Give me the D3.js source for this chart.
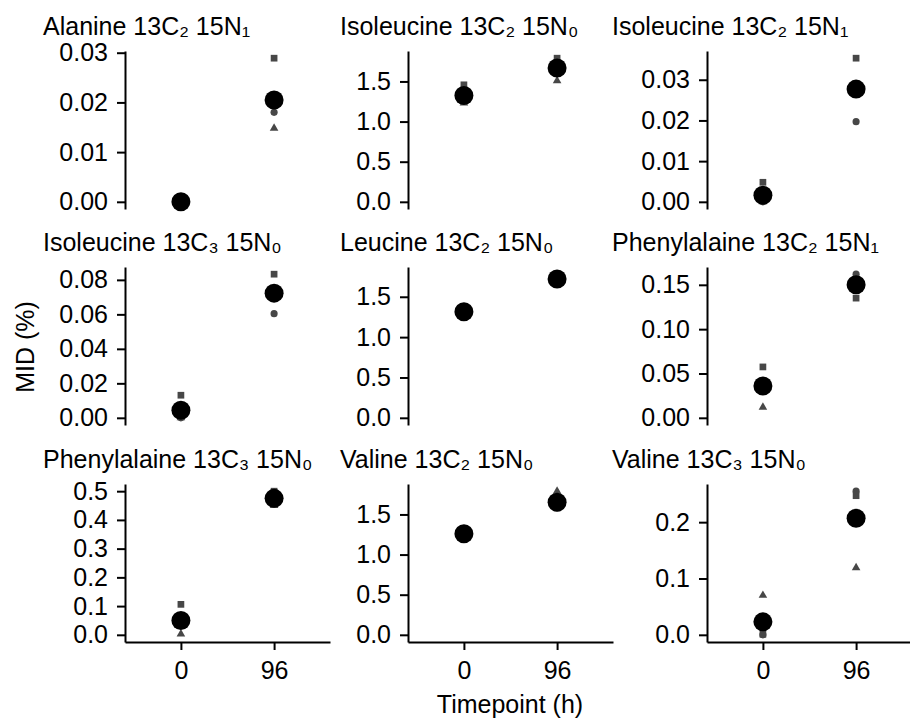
<!DOCTYPE html>
<html>
<head>
<meta charset="utf-8">
<script src="https://cdn.jsdelivr.net/npm/d3@7"></script>
<style>
  body { margin: 0; background: #fff; }
  svg text { font-family: "Liberation Sans", Arial, sans-serif; fill: #000; }
</style>
</head>
<body>
<div id="mid_plot"></div>
<script>
var titles = [
    "Alanine 13C\u2082 15N\u2081",
    "Isoleucine 13C\u2082 15N\u2080",
    "Isoleucine 13C\u2082 15N\u2081",
    "Isoleucine 13C\u2083 15N\u2080",
    "Leucine 13C\u2082 15N\u2080",
    "Phenylalaine 13C\u2082 15N\u2081",
    "Phenylalaine 13C\u2083 15N\u2080",
    "Valine 13C\u2082 15N\u2080",
    "Valine 13C\u2083 15N\u2080"
];
var timepoints = ["0", "96"];

/* replicate values per panel: [t0, t96] */
var repCircle = [
    [0.0000, 0.0180], [1.287, 1.70], [0.0000, 0.0197],
    [0.0000, 0.0604], [1.31, 1.69], [0.0383, 0.162],
    [0.041, 0.475], [1.26, 1.59], [0.000, 0.255]
];
var repSquare = [
    [0.0000, 0.0289], [1.458, 1.79], [0.0048, 0.0353],
    [0.0131, 0.0833], [1.30, 1.78], [0.0574, 0.135],
    [0.106, 0.500], [1.25, 1.58], [0.001, 0.247]
];
var repTriangle = [
    [0.0000, 0.0148], [1.23, 1.51], [0.0000, 0.0281],
    [0.0000, 0.0732], [1.33, 1.69], [0.012, 0.153],
    [0.003, 0.450], [1.27, 1.79], [0.070, 0.119]
];
var means = [
    [0.0000, 0.0205], [1.325, 1.667], [0.0016, 0.0277],
    [0.0044, 0.0723], [1.315, 1.72], [0.0359, 0.150],
    [0.050, 0.475], [1.26, 1.653], [0.023, 0.207]
];
var yTicks = [
    ["0.00", "0.01", "0.02", "0.03"], ["0.0", "0.5", "1.0", "1.5"], ["0.00", "0.01", "0.02", "0.03"],
    ["0.00", "0.02", "0.04", "0.06", "0.08"], ["0.0", "0.5", "1.0", "1.5"], ["0.00", "0.05", "0.10", "0.15"],
    ["0.0", "0.1", "0.2", "0.3", "0.4", "0.5"], ["0.0", "0.5", "1.0", "1.5"], ["0.0", "0.1", "0.2"]
];

var svg = d3.select("#mid_plot")
    .append("svg")
    .attr("width", 910)
    .attr("height", 721);

var panelW = 205;
var panelH = 158;
var colLeft = [125, 408, 707];
var rowTop = [51, 267, 484];
var titleX = [43, 340, 612];
var fontSize = 25;
var repColor = "#474747";

var shapes = [
    {vals: repCircle, type: d3.symbolCircle, size: 40},
    {vals: repSquare, type: d3.symbolSquare, size: 45},
    {vals: repTriangle, type: d3.symbolTriangle, size: 32}
];

titles.forEach(function(title, i) {
    var col = i % 3, row = Math.floor(i / 3);

    /*title sits at the left edge of each sub plot*/
    svg.append("text")
        .attr("x", titleX[col])
        .attr("y", rowTop[row] - 16)
        .attr("font-size", fontSize)
        .text(title);

    var g = svg.append("g")
        .attr("transform", "translate(" + colLeft[col] + "," + rowTop[row] + ")");

    var xScale = d3.scalePoint().domain(timepoints).range([0, panelW]).padding(0.6);

    var allVals = [0].concat(repCircle[i], repSquare[i], repTriangle[i], means[i]);
    var ext = d3.extent(allVals);
    var pad = (ext[1] - ext[0]) * 0.05;
    var yScale = d3.scaleLinear().domain([ext[0] - pad, ext[1] + pad]).range([panelH, 0]);

    /*Y axis*/
    var yAxis = g.append("g")
        .call(d3.axisLeft(yScale)
            .tickValues(yTicks[i].map(Number))
            .tickFormat(function(d, k) { return yTicks[i][k]; })
            .tickSize(8).tickSizeOuter(0).tickPadding(9));
    yAxis.selectAll("text").attr("font-size", fontSize).attr("font-family", null);
    yAxis.selectAll("path, line").attr("stroke", "#000").attr("stroke-width", 2);

    /*X axis only on bottom row*/
    if (row == 2) {
        var xAxis = g.append("g")
            .attr("transform", "translate(0," + panelH + ")")
            .call(d3.axisBottom(xScale).tickSize(8).tickSizeOuter(0).tickPadding(11));
        xAxis.selectAll("text").attr("font-size", fontSize).attr("font-family", null);
        xAxis.selectAll("path, line").attr("stroke", "#000").attr("stroke-width", 2);
    }

    /*replicate points*/
    shapes.forEach(function(s) {
        g.selectAll(null)
            .data(s.vals[i])
            .enter()
            .append("path")
            .attr("d", d3.symbol().type(s.type).size(s.size))
            .attr("transform", function(d, k) {
                return "translate(" + xScale(timepoints[k]) + "," + yScale(d) + ")";
            })
            .attr("fill", repColor);
    });

    /*mean points*/
    g.selectAll(".mean")
        .data(means[i])
        .enter()
        .append("circle")
        .attr("class", "mean")
        .attr("cx", function(d, k) { return xScale(timepoints[k]); })
        .attr("cy", function(d) { return yScale(d); })
        .attr("r", 9.5)
        .attr("fill", "#000");
});

/*shared axis titles*/
svg.append("text")
    .attr("transform", "translate(34,347) rotate(-90)")
    .attr("text-anchor", "middle")
    .attr("font-size", fontSize)
    .text("MID (%)");

svg.append("text")
    .attr("x", 510)
    .attr("y", 713)
    .attr("text-anchor", "middle")
    .attr("font-size", fontSize)
    .text("Timepoint (h)");
</script>
</body>
</html>
